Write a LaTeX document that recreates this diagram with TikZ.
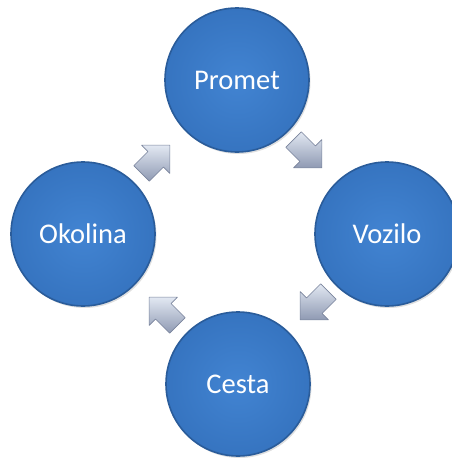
\documentclass[tikz,border=0pt]{standalone}
\usepackage{fontspec}
\setmainfont{Carlito}
\usetikzlibrary{shadows}
\definecolor{bluein}{HTML}{4284D2}
\definecolor{blueout}{HTML}{3674C0}
\definecolor{bluerim}{HTML}{2A5C9A}
\definecolor{arrlight}{HTML}{E2E8F2}
\definecolor{arrdark}{HTML}{8F9AB3}
\definecolor{arredge}{HTML}{7A849C}
\tikzset{
  ball/.style={circle, minimum size=144pt, inner sep=0pt, draw=bluerim, line width=1.6pt,
    inner color=bluein, outer color=blueout, text=white,
    font=\fontsize{28.5}{34}\selectfont,
    drop shadow={shadow xshift=1.5pt, shadow yshift=-2pt, opacity=0.25}},
  blockarrow/.style={draw=arredge, line width=0.6pt, top color=arrlight, bottom color=arrdark, line join=round}
}
\begin{document}
\begin{tikzpicture}[x=1pt,y=-1pt]
\useasboundingbox (0,0) rectangle (451,458);
\node[ball] (promet) at (237,80) {Promet};
\node[ball] (vozilo) at (387,234) {Vozilo};
\node[ball] (cesta) at (238,384) {Cesta};
\node[ball] (okolina) at (83,234) {Okolina};
% block arrows: local shape pointing along +x (rotation acts on the canvas)
\foreach \cx/\cy/\ang/\nm in {155/160/45/a1, 307/153/-45/a2, 315/305/-135/a3, 164/312/135/a4}{
  \begin{scope}[shift={(\cx,\cy)}, rotate=\ang]
    \coordinate (\nm) at (0,0);
    \draw[blockarrow] (21,0) -- (1,-20) -- (1,-11) -- (-19,-11) -- (-19,11) -- (1,11) -- (1,20) -- cycle;
  \end{scope}
}
\end{tikzpicture}
\end{document}
